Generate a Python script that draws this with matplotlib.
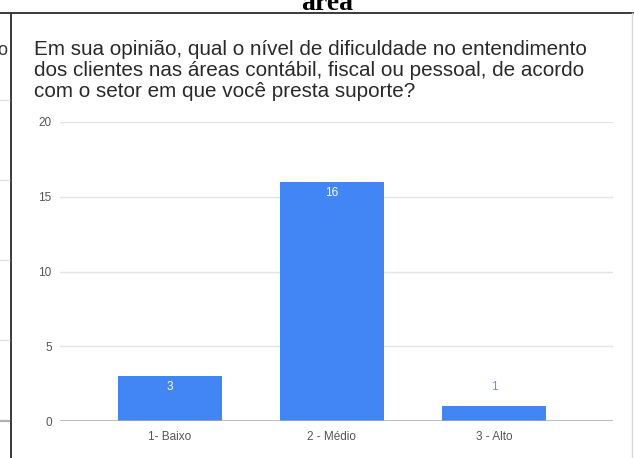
import matplotlib
matplotlib.use("Agg")
import matplotlib.pyplot as plt
from matplotlib.lines import Line2D

# data
categories = ["1- Baixo", "2 - Médio", "3 - Alto"]
values = [3, 16, 1]
y_ticks = [0, 5, 10, 15, 20]
question = [
    "Em sua opinião, qual o nível de dificuldade no entendimento",
    "dos clientes nas áreas contábil, fiscal ou pessoal, de acordo",
    "com o setor em que você presta suporte?",
]

W, H = 634, 458
plt.rcParams["font.family"] = ["Liberation Sans", "DejaVu Sans"]

fig = plt.figure(figsize=(W / 100, H / 100), dpi=100)
fig.patch.set_facecolor("white")


def px(x, y):
    # pixel coords (from top-left) -> figure fraction
    return x / W, 1 - y / H


# ---- frame of the screenshot ----
fig.add_artist(Line2D([0, 1], [1 - 13 / H] * 2, transform=fig.transFigure,
                      color="#3a3a3a", lw=1.4))
fig.add_artist(Line2D([10.5 / W] * 2, [0, 1 - 13 / H], transform=fig.transFigure,
                      color="#3a3a3a", lw=1.4))
fig.add_artist(Line2D([632 / W] * 2, [0, 1 - 13 / H], transform=fig.transFigure,
                      color="#d8d8d8", lw=1.0))
# bits of the neighbouring chart on the left
for gy in [100, 180, 260, 340]:
    fig.add_artist(Line2D([0, 9 / W], [1 - gy / H] * 2, transform=fig.transFigure,
                          color="#e2e2e2", lw=1.0))
fig.add_artist(Line2D([0, 9 / W], [1 - 421 / H] * 2, transform=fig.transFigure,
                      color="#b0b0b0", lw=1.6))
fig.text(*px(7, 55), "o", ha="right", va="baseline", fontsize=13, color="#333333")

# cut-off heading above
fig.text(*px(327, 10), "área", ha="center", va="baseline", fontsize=20,
         fontweight="bold", family=["Liberation Serif", "DejaVu Serif"], color="black")

# question text
for i, line in enumerate(question):
    fig.text(*px(34, 55 + 21 * i), line, ha="left", va="baseline",
             fontsize=14.9, color="#2a2a2a")

# ---- chart ----
ax_left, ax_right = 60, 613
ax_top, ax_bot = 122, 421
ax = fig.add_axes([ax_left / W, 1 - ax_bot / H, (ax_right - ax_left) / W, (ax_bot - ax_top) / H])

blue = "#4285F4"
x = list(range(len(categories)))
bars = ax.bar(x, values, width=0.64, color=blue, zorder=3)

ax.set_xlim(-0.679, 2.735)
ax.set_ylim(0, 20)
ax.set_yticks(y_ticks)
ax.set_xticks(x)
ax.set_xticklabels(categories)
ax.grid(axis="y", color="#e4e4e4", lw=1.0, zorder=0)
ax.axhline(0, color="#aaaaaa", lw=1.8, zorder=4)
for s in ax.spines.values():
    s.set_visible(False)
ax.tick_params(axis="both", length=0, labelsize=8.5, colors="#555555")
ax.tick_params(axis="y", pad=6)
ax.tick_params(axis="x", pad=7)

for b, v in zip(bars, values):
    cx = b.get_x() + b.get_width() / 2
    if v >= 3:
        ax.annotate(str(v), (cx, v), xytext=(0, -8), textcoords="offset points",
                    ha="center", va="center", fontsize=8.5, color="white", zorder=5)
    else:
        ax.annotate(str(v), (cx, v), xytext=(0, 13.5), textcoords="offset points",
                    ha="center", va="center", fontsize=8.5, color="#5b95f5", zorder=5)

fig.savefig("out.png", dpi=100)
